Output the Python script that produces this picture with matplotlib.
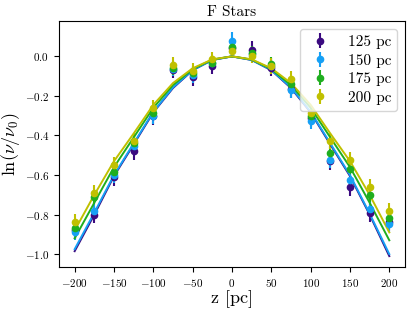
import numpy as np
import matplotlib
matplotlib.use("Agg")
import matplotlib.pyplot as plt

plt.rcParams["font.family"] = "serif"
plt.rcParams["font.serif"] = ["cmr10"]
plt.rcParams["mathtext.fontset"] = "cm"
plt.rcParams["axes.formatter.use_mathtext"] = True

z = [-200, -175, -150, -125, -100, -75, -50, -25, 0, 25, 50, 75, 100, 125, 150, 175, 200]

labels = ["125 pc", "150 pc", "175 pc", "200 pc"]
colors = ["#3b0a80", "#16a0f5", "#1fae1f", "#c0c000"]

# measured ln(nu/nu0)
data_125 = [-0.88, -0.80, -0.61, -0.479, -0.30, -0.07, -0.106, -0.05, 0.04,
            0.033, -0.058, -0.166, -0.31, -0.53, -0.66, -0.79, -0.836]
data_150 = [-0.89, -0.78, -0.60, -0.454, -0.30, -0.065, -0.095, -0.031, 0.076,
            0.01, -0.05, -0.17, -0.327, -0.525, -0.625, -0.77, -0.85]
data_175 = [-0.87, -0.713, -0.587, -0.44, -0.285, -0.06, -0.086, -0.035, 0.05,
            0.018, -0.04, -0.14, -0.30, -0.49, -0.567, -0.70, -0.816]
data_200 = [-0.836, -0.69, -0.55, -0.426, -0.26, -0.045, -0.073, -0.015, 0.026,
            0.0, -0.05, -0.116, -0.285, -0.426, -0.526, -0.66, -0.78]

err_125 = [0.045, 0.045, 0.045, 0.045, 0.045, 0.04, 0.045, 0.04, 0.04,
           0.045, 0.04, 0.045, 0.045, 0.045, 0.045, 0.045, 0.045]
err_150 = [0.04, 0.04, 0.04, 0.04, 0.04, 0.035, 0.04, 0.04, 0.045,
           0.04, 0.04, 0.04, 0.04, 0.04, 0.04, 0.04, 0.04]
err_175 = [0.035, 0.035, 0.035, 0.035, 0.035, 0.035, 0.035, 0.035, 0.035,
           0.035, 0.035, 0.035, 0.035, 0.035, 0.035, 0.035, 0.035]
err_200 = [0.04, 0.04, 0.04, 0.04, 0.04, 0.04, 0.04, 0.035, 0.035,
           0.035, 0.04, 0.04, 0.04, 0.04, 0.04, 0.04, 0.04]

# model curves
model_125 = [-0.985, -0.80, -0.605, -0.445, -0.283, -0.16, -0.07, -0.018, 0.0,
             -0.018, -0.07, -0.16, -0.283, -0.445, -0.605, -0.80, -1.01]
model_150 = [-0.975, -0.79, -0.60, -0.44, -0.28, -0.157, -0.069, -0.018, 0.0,
             -0.018, -0.069, -0.157, -0.28, -0.44, -0.60, -0.795, -1.0]
model_175 = [-0.92, -0.74, -0.56, -0.41, -0.26, -0.145, -0.065, -0.016, 0.0,
             -0.016, -0.065, -0.145, -0.26, -0.41, -0.56, -0.74, -0.93]
model_200 = [-0.88, -0.70, -0.53, -0.39, -0.245, -0.135, -0.06, -0.015, 0.0,
             -0.015, -0.06, -0.135, -0.245, -0.39, -0.53, -0.70, -0.89]

data = [data_125, data_150, data_175, data_200]
errs = [err_125, err_150, err_175, err_200]
models = [model_125, model_150, model_175, model_200]

fig = plt.figure(figsize=(4.15, 3.13), dpi=100)
ax = fig.add_axes([0.142, 0.146, 0.834, 0.786])

for y, e, c, lab in zip(data, errs, colors, labels):
    ax.errorbar(z, y, yerr=e, fmt="o", color=c, markersize=4.5,
                elinewidth=1.5, capsize=0, label=lab)
for m, c in zip(models, colors):
    ax.plot(z, m, color=c, linewidth=1.4)

ax.set_title("F Stars", fontsize=11, pad=4)
ax.set_xlabel("z [pc]", fontsize=13, labelpad=1)
ax.set_ylabel(r"$\ln(\nu/\nu_0)$", fontsize=13, labelpad=2)
ax.set_xticks([-200, -150, -100, -50, 0, 50, 100, 150, 200])
ax.set_yticks([0.0, -0.2, -0.4, -0.6, -0.8, -1.0])
ax.tick_params(axis="both", labelsize=8)
ax.legend(loc="upper right", fontsize=11, handletextpad=1.0,
          handlelength=1.7, borderpad=0.4, labelspacing=0.3)

fig.savefig("out.png", dpi=100)
